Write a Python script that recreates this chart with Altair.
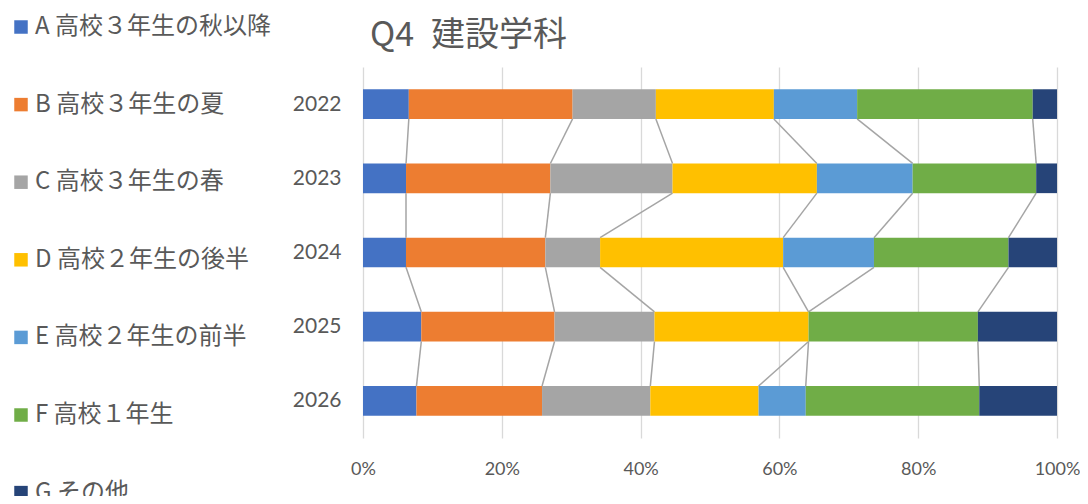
import json
import altair as alt
import pandas as pd

years = ["2022", "2023", "2024", "2025", "2026"]
categories = [
    "A 高校３年生の秋以降",
    "B 高校３年生の夏",
    "C 高校３年生の春",
    "D 高校２年生の後半",
    "E 高校２年生の前半",
    "F 高校１年生",
    "G その他",
]
colors = ["#4472C4", "#ED7D31", "#A5A5A5", "#FFC000", "#5B9BD5", "#70AD47", "#264478"]

A = [6.6, 6.2, 6.2, 8.4, 7.7]
B = [23.6, 20.8, 20.1, 19.2, 18.1]
C = [12.0, 17.6, 7.9, 14.4, 15.6]
D = [17.0, 20.8, 26.4, 22.2, 15.6]
E = [12.0, 13.8, 13.1, 0.0, 6.8]
F = [25.3, 17.8, 19.4, 24.4, 25.0]
G = [3.5, 3.0, 7.0, 11.4, 11.2]
series = [A, B, C, D, E, F, G]

# build bar table (normalized cumulative shares)
half = 0.2
rows = []
cum = {}  # cum[(k, i)] = end of category k in year i
for i, yr in enumerate(years):
    total = sum(s[i] for s in series)
    acc = 0.0
    for k, s in enumerate(series):
        start = acc / total
        acc += s[i]
        end = acc / total
        cum[(k, i)] = end
        rows.append({"year": yr, "cat": categories[k], "x0": start, "x1": end,
                     "y0": i + 0.5 - half, "y1": i + 0.5 + half, "order": k})
bars_df = pd.DataFrame(rows)

# series connector lines between consecutive years
lines = []
for k in range(len(series) - 1):
    for i in range(len(years) - 1):
        lines.append({"xa": cum[(k, i)], "xb": cum[(k, i + 1)],
                      "ya": i + 0.5 + half, "yb": i + 1 + 0.5 - half})
lines_df = pd.DataFrame(lines)

FONT = "Noto Sans CJK JP"
NUMFONT = "Lato"
GRAY = "#595959"

x_scale = alt.Scale(domain=[0, 1], nice=False)
y_scale = alt.Scale(domain=[0, len(years)], reverse=True, nice=False, zero=False)

label_expr = json.dumps(years) + "[floor(datum.value)]"

bars = alt.Chart(bars_df).mark_bar().encode(
    x=alt.X("x0:Q", scale=x_scale, title=None,
            axis=alt.Axis(values=[0, 0.2, 0.4, 0.6, 0.8, 1.0], format=".0%",
                          grid=True, gridColor="#d9d9d9", gridWidth=1.3,
                          domain=False, ticks=False, labelPadding=22,
                          labelFlush=False,
                          labelFont=NUMFONT, labelFontSize=18, labelColor=GRAY)),
    x2="x1:Q",
    y=alt.Y("y0:Q", scale=y_scale, title=None,
            axis=alt.Axis(values=[i + 0.5 for i in range(len(years))],
                          labelExpr=label_expr, grid=False, domain=False,
                          ticks=False, labelPadding=22, labelFont=NUMFONT,
                          labelFontSize=21, labelColor=GRAY)),
    y2="y1:Q",
    color=alt.Color("cat:N",
                    scale=alt.Scale(domain=categories, range=colors),
                    legend=alt.Legend(title=None, orient="none", legendX=-354,
                                      legendY=-52, direction="vertical",
                                      symbolType="square", symbolSize=182,
                                      symbolStrokeWidth=0, labelFont=FONT,
                                      labelFontSize=24, labelColor=GRAY,
                                      labelOffset=2, rowPadding=53.6, padding=0,
                                      labelLimit=400)),
    order=alt.Order("order:Q"),
)

connectors = alt.Chart(lines_df).mark_rule(color="#a5a5a5", strokeWidth=1.5).encode(
    x=alt.X("xa:Q", scale=x_scale),
    x2="xb:Q",
    y=alt.Y("ya:Q", scale=y_scale),
    y2="yb:Q",
)

chart = alt.layer(connectors, bars).properties(
    width=694,
    height=371,
    autosize=alt.AutoSizeParams(type="none"),
    padding={"left": 355, "top": 59, "right": 23, "bottom": 58},
    title=alt.TitleParams("Q4\u2002建設学科", anchor="start", frame="group",
                          dx=7, dy=52, offset=14, font=FONT, fontSize=34,
                          fontWeight="normal", color=GRAY),
).configure_view(stroke=None)

chart.save("out.html", embed_options={"renderer": "svg", "actions": False})
